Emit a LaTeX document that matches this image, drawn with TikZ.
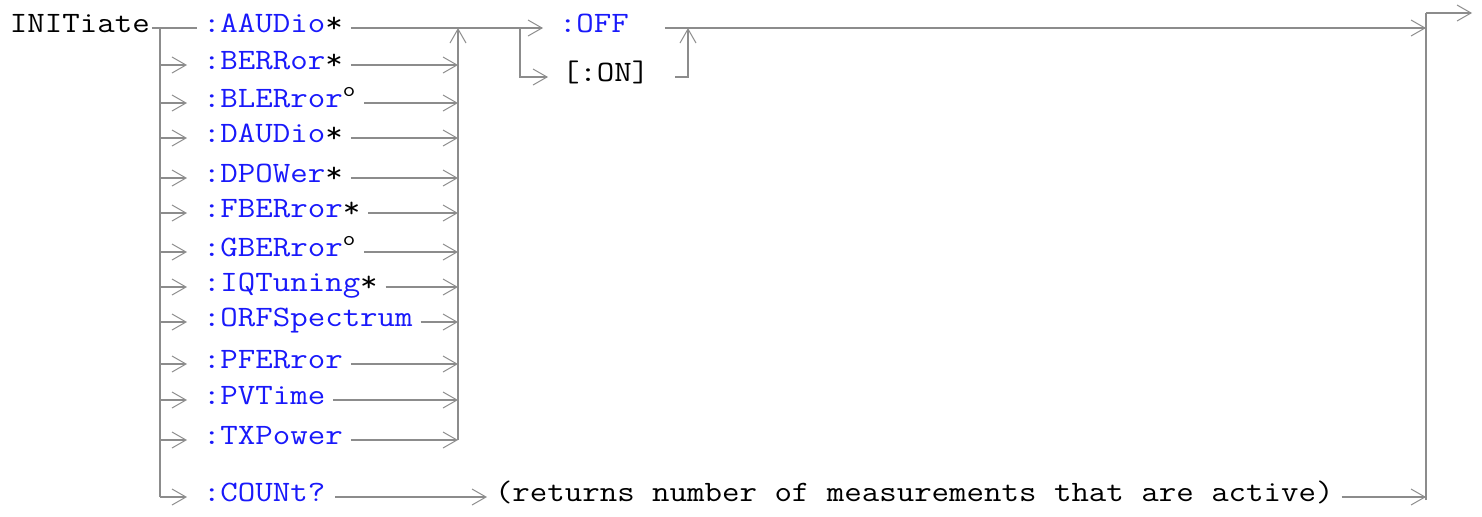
\documentclass[tikz,border=0pt]{standalone}
\usepackage{fontspec}
\setmonofont{Latin Modern Mono}[FakeStretch=1.146]
\usetikzlibrary{arrows.meta,positioning}
\definecolor{cmdblue}{RGB}{25,25,250}
\definecolor{railgray}{RGB}{140,140,140}
\newcommand\starmark{\textcolor{black}{*}}
\newcommand\circmark{\textsuperscript{\textcolor{black}{o}}}

\begin{document}
\begin{tikzpicture}[
  x=0.5pt, y=-0.5pt,
  kw/.style={inner sep=0pt, outer sep=0pt, anchor=mid west, font=\fontsize{14.8pt}{17pt}\selectfont\ttfamily, text=cmdblue},
  plain/.style={kw, text=black},
  rail/.style={draw=railgray, line width=1.1pt},
  arr/.style={rail, -{Straight Barb[length=7pt, width=8pt, line width=0.5pt]}}
]
\useasboundingbox (0,0) rectangle (1482,516);

% keywords
\node[plain] (init) at (10,28) {INITiate};
\node[kw] (aaudio) at (203,28) {:AAUDio\starmark};
\node[kw] (berror) at (203,65) {:BERRor\starmark};
\node[kw] (blerror) at (203,103) {:BLERror\circmark};
\node[kw] (daudio) at (203,138) {:DAUDio\starmark};
\node[kw] (dpower) at (203,178) {:DPOWer\starmark};
\node[kw] (fberror) at (203,213) {:FBERror\starmark};
\node[kw] (gberror) at (203,252) {:GBERror\circmark};
\node[kw] (iqtuning) at (203,287) {:IQTuning\starmark};
\node[kw] (orfspec) at (203,322) {:ORFSpectrum};
\node[kw] (pferror) at (203,364) {:PFERror};
\node[kw] (pvtime) at (203,400) {:PVTime};
\node[kw] (txpower) at (203,440) {:TXPower};
\node[kw] (count) at (203,497) {:COUNt?};
\node[plain] (returns) at (495,497) {(returns number of measurements that are active)};
\node[kw] (off) at (559,28) {:OFF};
\node[plain] (on) at (562,77) {[:ON]};

% branch points
\coordinate (l-top) at (160,28);
\coordinate (l-berror) at (160,65);
\coordinate (l-blerror) at (160,103);
\coordinate (l-daudio) at (160,138);
\coordinate (l-dpower) at (160,178);
\coordinate (l-fberror) at (160,213);
\coordinate (l-gberror) at (160,252);
\coordinate (l-iqtuning) at (160,287);
\coordinate (l-orfspec) at (160,322);
\coordinate (l-pferror) at (160,364);
\coordinate (l-pvtime) at (160,400);
\coordinate (l-txpower) at (160,440);
\coordinate (l-count) at (160,497);
\coordinate (r-top) at (458,28);
\coordinate (r-berror) at (458,65);
\coordinate (r-blerror) at (458,103);
\coordinate (r-daudio) at (458,138);
\coordinate (r-dpower) at (458,178);
\coordinate (r-fberror) at (458,213);
\coordinate (r-gberror) at (458,252);
\coordinate (r-iqtuning) at (458,287);
\coordinate (r-orfspec) at (458,322);
\coordinate (r-pferror) at (458,364);
\coordinate (r-pvtime) at (458,400);
\coordinate (r-txpower) at (458,440);
\coordinate (fork) at (520,28);
\coordinate (on-up) at (688,28);
\coordinate (out-top) at (1426,13);
\coordinate (out-mid) at (1426,28);
\coordinate (out-bot) at (1426,500);
\coordinate (out-cnt) at (1426,497);
\coordinate (out-end) at (1472,13);

% left side
\draw[rail, shorten <=1pt, shorten >=3pt] (init.mid east) -- (aaudio.mid west);
\draw[rail] (l-top) -- (l-count);
\draw[arr, shorten >=8pt] (l-berror) -- (berror.mid west);
\draw[arr, shorten >=8pt] (l-blerror) -- (blerror.mid west);
\draw[arr, shorten >=8pt] (l-daudio) -- (daudio.mid west);
\draw[arr, shorten >=8pt] (l-dpower) -- (dpower.mid west);
\draw[arr, shorten >=8pt] (l-fberror) -- (fberror.mid west);
\draw[arr, shorten >=8pt] (l-gberror) -- (gberror.mid west);
\draw[arr, shorten >=8pt] (l-iqtuning) -- (iqtuning.mid west);
\draw[arr, shorten >=8pt] (l-orfspec) -- (orfspec.mid west);
\draw[arr, shorten >=8pt] (l-pferror) -- (pferror.mid west);
\draw[arr, shorten >=8pt] (l-pvtime) -- (pvtime.mid west);
\draw[arr, shorten >=8pt] (l-txpower) -- (txpower.mid west);
\draw[arr, shorten >=8pt] (l-count) -- (count.mid west);

% right side
\draw[rail, shorten <=4pt] (aaudio.mid east) -- (fork);
\draw[arr, shorten <=4pt] (berror.mid east) -- (r-berror);
\draw[arr, shorten <=4pt] (blerror.mid east) -- (r-blerror);
\draw[arr, shorten <=4pt] (daudio.mid east) -- (r-daudio);
\draw[arr, shorten <=4pt] (dpower.mid east) -- (r-dpower);
\draw[arr, shorten <=4pt] (fberror.mid east) -- (r-fberror);
\draw[arr, shorten <=4pt] (gberror.mid east) -- (r-gberror);
\draw[arr, shorten <=4pt] (iqtuning.mid east) -- (r-iqtuning);
\draw[arr, shorten <=4pt] (orfspec.mid east) -- (r-orfspec);
\draw[arr, shorten <=4pt] (pferror.mid east) -- (r-pferror);
\draw[arr, shorten <=4pt] (pvtime.mid east) -- (r-pvtime);
\draw[arr, shorten <=4pt] (txpower.mid east) -- (r-txpower);
\draw[arr] (r-txpower) -- (r-top);

% OFF / ON
\draw[arr, shorten >=8pt] (fork) -- (off.mid west);
\draw[arr, shorten >=7pt] (fork) |- (on.mid west);
\draw[arr, shorten <=13pt] (on.mid east) -| (on-up);
\draw[arr, shorten <=18pt] (off.mid east) -- (out-mid);

% COUNt? and exit
\draw[arr, shorten <=5pt, shorten >=4pt] (count.mid east) -- (returns.mid west);
\draw[arr, shorten <=4pt] (returns.mid east) -- (out-cnt);
\draw[rail] (out-bot) -- (out-top);
\draw[arr] (out-top) -- (out-end);
\end{tikzpicture}
\end{document}
